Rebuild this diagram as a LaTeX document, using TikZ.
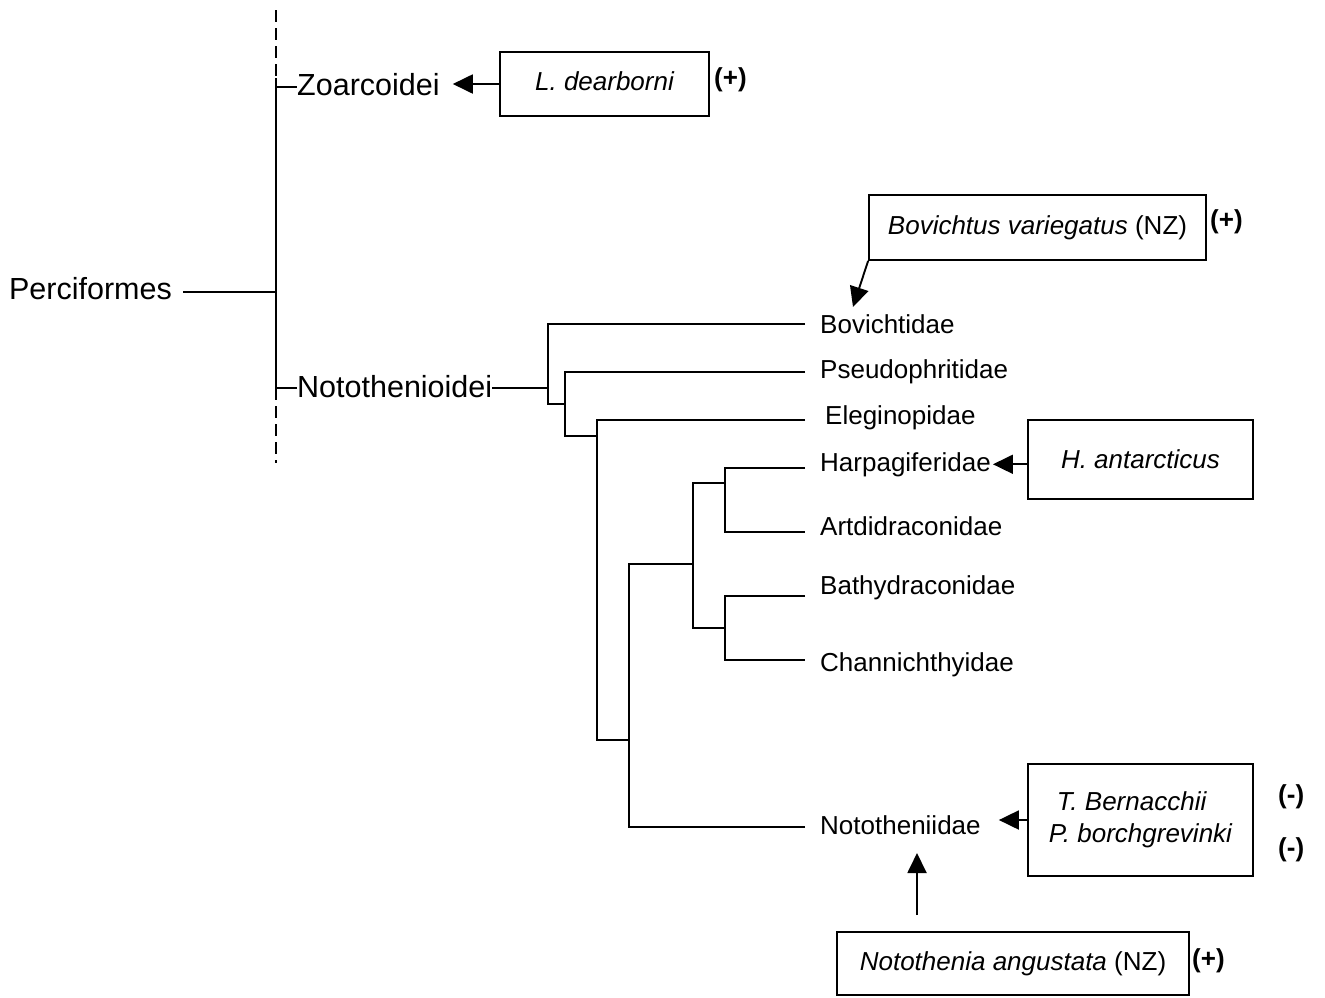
\documentclass[tikz,border=0pt]{standalone}
\usepackage{fontspec}
\setmainfont{Liberation Sans}
\usetikzlibrary{arrows.meta}

\tikzset{
  branch/.style={line width=1.9pt},
  taxon/.style={anchor=base west,inner sep=0pt,font=\fontsize{26}{30}\selectfont},
  suborder/.style={anchor=base west,inner sep=0pt,font=\fontsize{30.5}{34}\selectfont},
  specbox/.style={draw,line width=1.8pt,inner sep=0pt,font=\fontsize{26}{32}\selectfont\itshape},
  sign/.style={anchor=west,inner sep=0pt,font=\fontsize{26}{30}\selectfont\bfseries},
  pointer/.style={line width=1.9pt,-{Triangle[length=20pt,width=19pt]}}
}

\begin{document}
\begin{tikzpicture}[x=1pt,y=-1pt]
\useasboundingbox (0,0) rectangle (1325,997);
\node[suborder,anchor=base east] (perc) at (172,299) {Perciformes};
\node[suborder] (zoar) at (297,95) {Zoarcoidei};
\node[suborder] (noto) at (297,397) {Notothenioidei};
\coordinate (root) at (276,292);
\coordinate (zo) at (276,87);
\coordinate (no) at (276,388);
\coordinate (ztop) at (276,10);
\coordinate (nbot) at (276,463);
\draw[branch] ([xshift=11pt]perc.east |- root) -- (root);
\draw[branch] (276,78) -- (no);
\draw[branch,dash pattern=on 12pt off 6pt] (ztop) -- (276,78);
\draw[branch,dash pattern=on 12pt off 6pt] (no) -- (nbot);
\draw[branch] (zo) -- (zo -| zoar.west);
\draw[branch] (no) -- (no -| noto.west);
\draw[branch] (no -| noto.east) -- (548,388);
\coordinate (bov) at (805,324);
\coordinate (pse) at (805,372);
\coordinate (ele) at (805,420);
\coordinate (har) at (805,468);
\coordinate (art) at (805,532);
\coordinate (bat) at (805,596);
\coordinate (cha) at (805,660);
\coordinate (not) at (805,827);
\draw[branch] (bov) -| (548,404) -- (565,404);
\draw[branch] (pse) -| (565,436) -- (597,436);
\draw[branch] (ele) -| (597,740) -- (629,740);
\draw[branch] (not) -| (629,564) -- (693,564);
\draw[branch] (725,483) -| (693,628) -- (725,628);
\draw[branch] (har) -| (725,532) -- (art);
\draw[branch] (bat) -| (725,660) -- (cha);
\node[taxon] (bovl) at (820,333) {Bovichtidae};
\node[taxon] (psel) at (820,378) {Pseudophritidae};
\node[taxon] (elel) at (825,424) {Eleginopidae};
\node[taxon] (harl) at (820,471) {Harpagiferidae};
\node[taxon] (artl) at (820,535) {Artdidraconidae};
\node[taxon] (batl) at (820,594) {Bathydraconidae};
\node[taxon] (chal) at (820,671) {Channichthyidae};
\node[taxon] (notl) at (820,834) {Nototheniidae};
\node[specbox,minimum width=209pt,minimum height=64pt] (dear) at (604.5,84) {L. dearborni\vphantom{g}};
\node[specbox,minimum width=337pt,minimum height=65pt] (bovi) at (1037.5,227.5) {Bovichtus variegatus \upshape(NZ)};
\node[specbox,minimum width=225pt,minimum height=79pt] (hant) at (1140.5,459.5) {H. antarcticus};
\node[specbox,minimum width=225pt,minimum height=112pt,align=left] (tber) at (1140.5,820) {\hspace{8pt}T. Bernacchii\\P. borchgrevinki};
\node[specbox,minimum width=352pt,minimum height=63pt] (nang) at (1013,963.5) {Notothenia angustata \upshape(NZ)};
\node[sign] (s1) at (714,80) {(+)};
\node[sign] (s2) at (1210,222) {(+)};
\node[sign] (s3) at (1278,797) {(-)};
\node[sign] (s4) at (1278,850) {(-)};
\node[sign] (s5) at (1192,961) {(+)};
\coordinate (bovtip) at (853,307);
\coordinate (nangtail) at (917,915);
\coordinate (nangtip) at (917,853);
\draw[pointer,shorten >=13pt] (dear.west) -- (dear.west -| zoar.east);
\draw[pointer] (bovi.south west) -- (bovtip);
\draw[pointer,shorten >=2pt] (hant.west |- harl) -- (harl.east |- harl);
\draw[pointer,shorten >=18pt] (tber.west) -- (tber.west -| notl.east);
\draw[pointer] (nangtail) -- (nangtip);
\end{tikzpicture}
\end{document}
